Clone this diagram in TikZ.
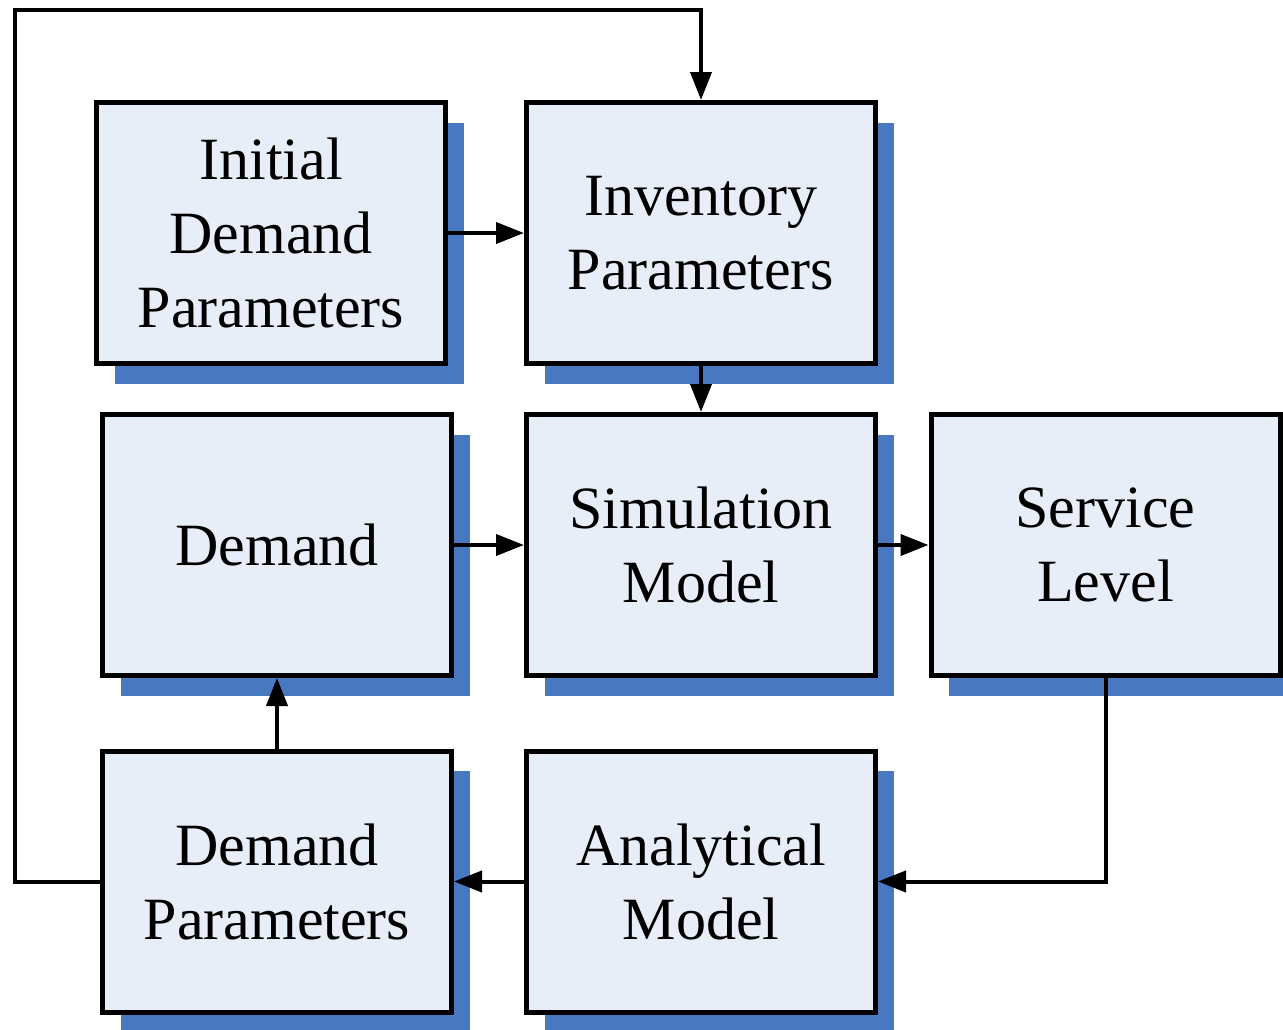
\documentclass[tikz,border=0pt]{standalone}
\usepackage{fontspec}
\setmainfont{Liberation Serif}
\usetikzlibrary{arrows.meta,shadows}
\definecolor{boxfill}{HTML}{E8EEF8}
\definecolor{shadowblue}{HTML}{4878C0}
\begin{document}
\begin{tikzpicture}[x=1pt,y=-1pt,
  block/.style={draw=black, line width=5pt, fill=boxfill,
    minimum width=349pt, minimum height=261pt, align=center,
    font=\fontsize{60}{74}\selectfont,
    general shadow={fill=shadowblue, shadow xshift=18pt, shadow yshift=-20pt}},
  link/.style={line width=4pt, line join=miter,
    -{Triangle[length=28pt,width=21pt]}}]
\useasboundingbox (0,0) rectangle (1283,1029);

\node[block] (idp) at (271,233)    {Initial\\Demand\\Parameters};
\node[block] (inv) at (701,233)    {Inventory\\Parameters};
\node[block] (dem) at (277,545)    {Demand};
\node[block] (sim) at (701,545)    {Simulation\\Model};
\node[block] (svc) at (1105.5,545) {Service\\Level};
\node[block] (dpar) at (277,881.5) {Demand\\Parameters};
\node[block] (ana) at (701,881.5)  {Analytical\\Model};

\coordinate (loop) at (15,10);

\draw[link] (idp.east) -- (inv.west);
\draw[link] (inv.south) -- (sim.north);
\draw[link] (dem.east) -- (sim.west);
\draw[link] (sim.east) -- (svc.west);
\draw[link] (svc.south) |- (ana.east);
\draw[link] (ana.west) -- (dpar.east);
\draw[link] (dpar.north) -- (dem.south);
\draw[link] (dpar.west) -| (loop) -| (inv.north);
\end{tikzpicture}
\end{document}
